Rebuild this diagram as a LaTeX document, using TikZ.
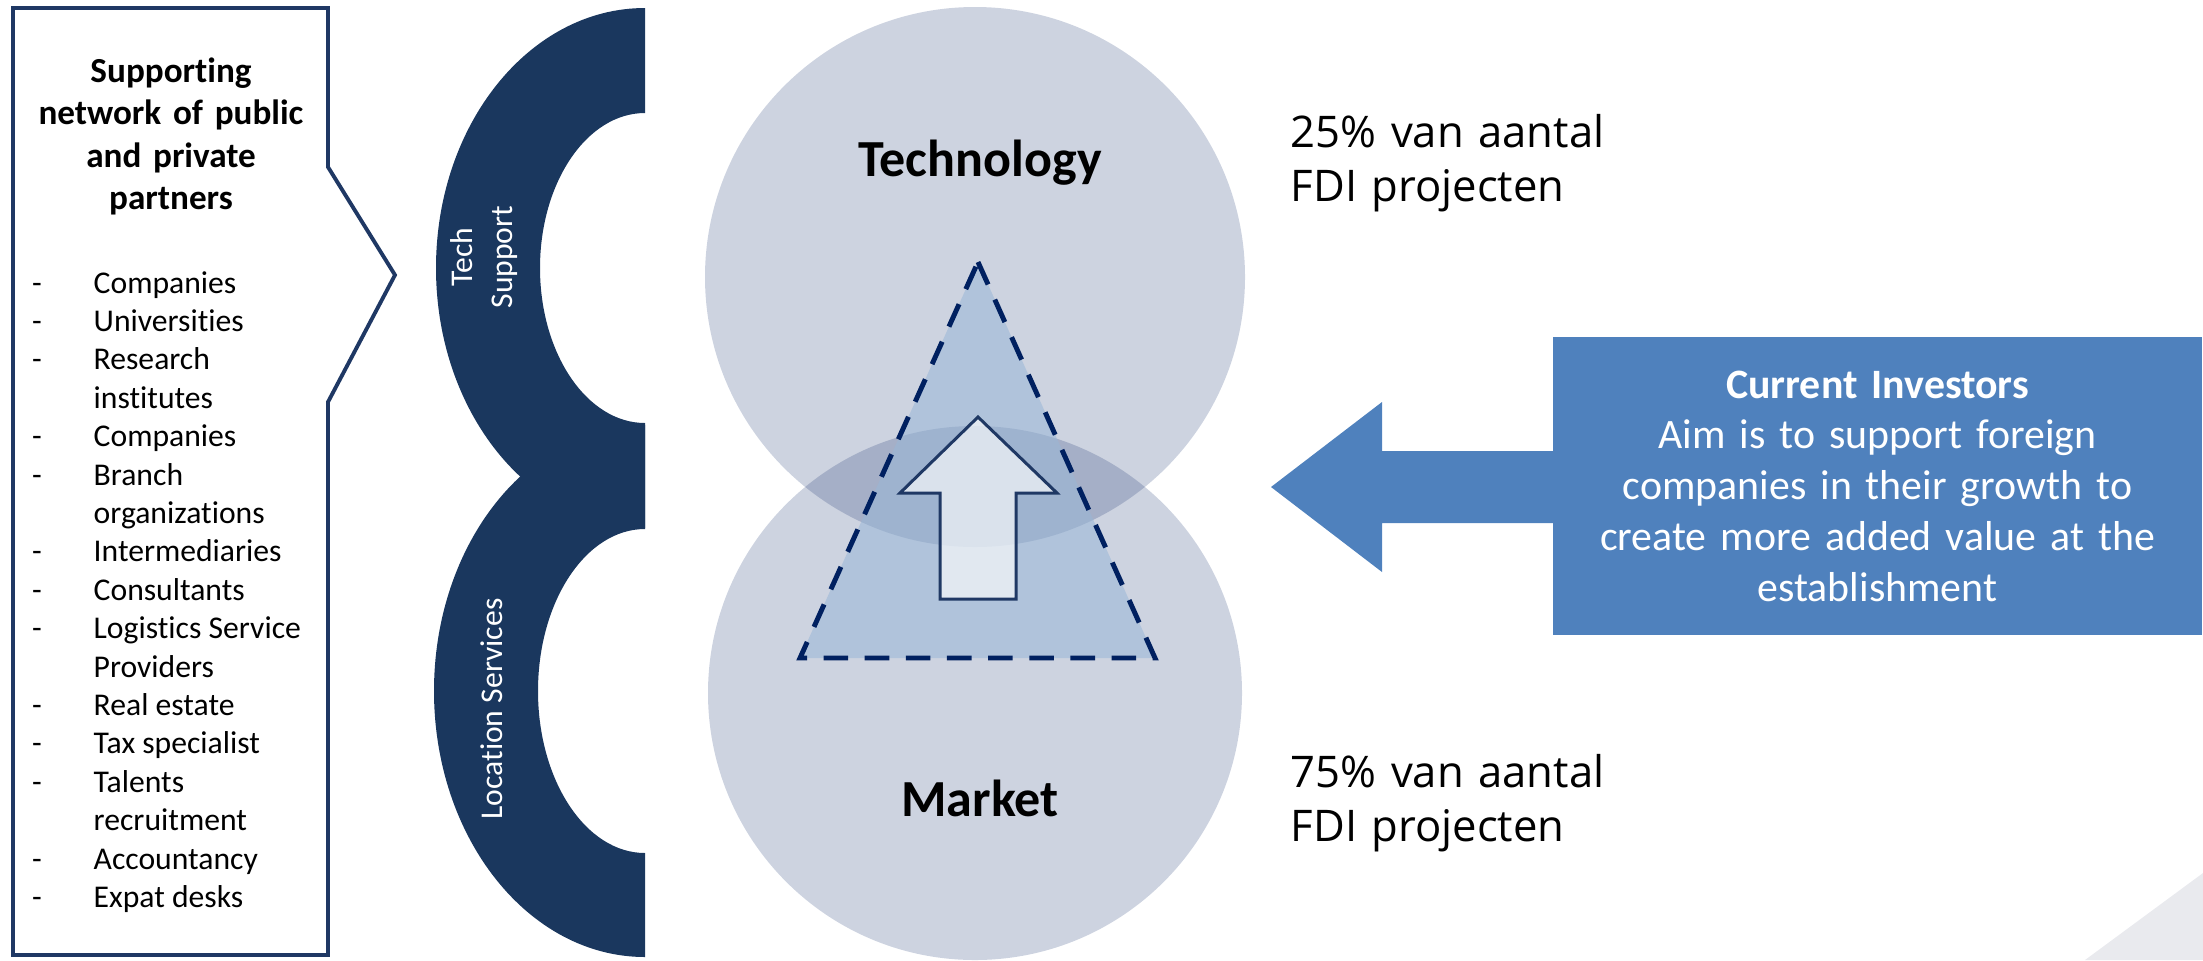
\documentclass[tikz,border=0pt]{standalone}
\usepackage{fontspec}
\setmainfont{Carlito}[Ligatures=NoCommon]
\newfontfamily\segoe{Open Sans}
\definecolor{navy}{HTML}{1A375E}
\definecolor{boxline}{HTML}{1F3864}
\definecolor{darkblue}{HTML}{002060}
\definecolor{ring}{HTML}{052263}
\definecolor{tri}{RGB}{152,182,215}
\definecolor{investor}{HTML}{4F81BD}
\definecolor{corner}{HTML}{E9EAEE}
\begin{document}
\begin{tikzpicture}[x=0.01cm,y=0.01cm,
		listitem/.style={inner sep=0pt,font=\fontsize{9}{10.9}\selectfont},
		arctext/.style={text=white,inner sep=0pt,align=center,rotate=90,font=\fontsize{9}{11.2}\selectfont},
		bigword/.style={inner sep=0pt,anchor=base,font=\fontsize{14.8}{17}\selectfont\bfseries},
		share/.style={inner sep=0pt,text width=4cm,align=left,anchor=base west,font=\segoe\fontsize{12.4}{15.6}\selectfont}]
		\useasboundingbox (0,0) rectangle (2203,-960);
		\fill[corner] (2085,-960) -- (2203,-873) -- (2203,-960) -- cycle;

		% partner box
		\draw[boxline,line width=1.1pt] (13,-8) -- (328,-8) -- (328,-167) -- (395,-275) -- (328,-402) -- (328,-955) -- (13,-955) -- cycle;
		\node[inner sep=0pt,text width=2.9cm,align=center,anchor=base,font=\fontsize{10}{12.1}\selectfont\bfseries] (title) at (171,-82) {Supporting\\network of public\\and private\\partners};
		\foreach \t [count=\i from 0] in {Companies,Universities,Research,institutes,Companies,Branch,organizations,Intermediaries,Consultants,Logistics Service,Providers,Real estate,Tax specialist,Talents,recruitment,Accountancy,Expat desks} {
				\node[listitem,anchor=base west] (item\i) at (93,{-293-38.4*\i}) {\t};
			}
		\foreach \i in {0,1,2,4,5,7,8,9,11,12,13,15,16} {
				\node[listitem,anchor=base] (dash\i) at (37,{-293-38.4*\i}) {-};
			}

		% service arcs
		\fill[navy] (645,-8) arc[start angle=90,end angle=270,x radius=209,y radius=260] -- (645,-423) arc[start angle=270,end angle=90,x radius=105,y radius=155] -- cycle;
		\fill[navy] (645,-425) arc[start angle=90,end angle=270,x radius=211,y radius=266] -- (645,-853) arc[start angle=270,end angle=90,x radius=107,y radius=162] -- cycle;
		\node[arctext] (tech) at (484,-257) {Tech\\Support};
		\node[arctext] (location) at (492,-709) {Location Services};

		% circles, triangle, arrow
		\fill[ring,opacity=0.2] (975,-277) circle[radius=270];
		\fill[ring,opacity=0.2] (975,-693) circle[radius=267];
		\draw[darkblue,line width=1.4pt,dash pattern=on 7pt off 4.7pt,fill=tri,fill opacity=0.55] (978,-262) -- (1155,-658) -- (800,-658) -- cycle;
		\draw[boxline,line width=0.85pt,fill=white,fill opacity=0.62] (978,-417) -- (1057,-493) -- (1016,-493) -- (1016,-599) -- (940,-599) -- (940,-493) -- (900,-493) -- cycle;
		\node[bigword] (technology) at (980,-176) {Technology};
		\node[bigword] (market) at (980,-816) {Market};
		\node[share] (share25) at (1290,-147) {25\% van aantal\\FDI projecten};
		\node[share] (share75) at (1290,-787) {75\% van aantal\\FDI projecten};

		% investors
		\node[fill=investor,text=white,minimum width=6.49cm,minimum height=2.98cm,text width=6.2cm,align=center,font=\fontsize{11.9}{14.44}\selectfont] (investors) at (1877.5,-486) {\textbf{Current Investors}\\Aim is to support foreign\\companies in their growth to\\create more added value at the\\establishment};
		\fill[investor] (1271,-487) -- (1382,-402) -- (1382,-451) -- (1554,-451) -- (1554,-523) -- (1382,-523) -- (1382,-572) -- cycle;
	\end{tikzpicture}
\end{document}
